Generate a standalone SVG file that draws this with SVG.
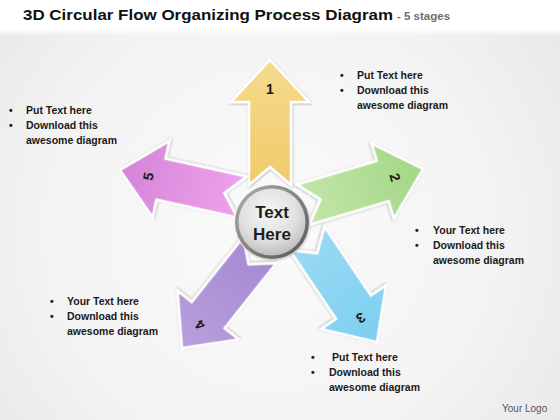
<svg xmlns="http://www.w3.org/2000/svg" width="560" height="420" viewBox="0 0 560 420">
  <style>
    .title{font-family:"Liberation Sans",Arial,sans-serif;font-weight:bold;font-size:15.5px;fill:#111;}
    .sub{font-family:"Liberation Sans",Arial,sans-serif;font-weight:bold;font-size:11.5px;fill:#6e6e6e;}
    .bul{font-family:"Liberation Sans",Arial,sans-serif;font-weight:bold;font-size:10.5px;fill:#1a1a1a;}
    .num{font-family:"Liberation Sans",Arial,sans-serif;font-weight:bold;font-size:14px;fill:#1a1a1a;text-anchor:middle;}
    .ctr{font-family:"Liberation Sans",Arial,sans-serif;font-weight:bold;font-size:17px;fill:#1e1e1e;text-anchor:middle;}
    .logo{font-family:"Liberation Sans",Arial,sans-serif;font-size:10px;fill:#555;}
    .arrow{stroke:#ffffff;stroke-width:2.5;stroke-linejoin:miter;filter:url(#sh);}
  </style>
  <defs>
    <radialGradient id="bg" cx="270" cy="230" r="380" gradientUnits="userSpaceOnUse">
      <stop offset="0" stop-color="#fbfbfb"/>
      <stop offset="0.6" stop-color="#f3f3f3"/>
      <stop offset="1" stop-color="#e6e6e6"/>
    </radialGradient>
    <linearGradient id="top" x1="0" y1="0" x2="0" y2="1">
      <stop offset="0" stop-color="#ffffff"/>
      <stop offset="0.8" stop-color="#ffffff"/>
      <stop offset="1" stop-color="#ffffff" stop-opacity="0"/>
    </linearGradient>
    <filter id="sh" x="-20%" y="-20%" width="140%" height="140%">
      <feDropShadow dx="0.5" dy="1" stdDeviation="1.2" flood-color="#000" flood-opacity="0.3"/>
    </filter>
    <path id="arr" d="M0,0 L39,42 L21,42 L21,125 L0,107 L-21,125 L-21,42 L-39,42 Z"/>
    <linearGradient id="g1" gradientUnits="userSpaceOnUse" x1="0" y1="0" x2="0" y2="125">
      <stop offset="0" stop-color="#f5da8e"/>
      <stop offset="1" stop-color="#f0cb6a"/>
    </linearGradient>
    <linearGradient id="g2" gradientUnits="userSpaceOnUse" x1="0" y1="0" x2="0" y2="125">
      <stop offset="0" stop-color="#a4d686"/>
      <stop offset="1" stop-color="#c2e6aa"/>
    </linearGradient>
    <linearGradient id="g3" gradientUnits="userSpaceOnUse" x1="0" y1="0" x2="0" y2="125">
      <stop offset="0" stop-color="#7ccff1"/>
      <stop offset="1" stop-color="#9ad9f3"/>
    </linearGradient>
    <linearGradient id="g4" gradientUnits="userSpaceOnUse" x1="0" y1="0" x2="0" y2="125">
      <stop offset="0" stop-color="#b89fdc"/>
      <stop offset="1" stop-color="#a68ad2"/>
    </linearGradient>
    <linearGradient id="g5" gradientUnits="userSpaceOnUse" x1="0" y1="0" x2="0" y2="125">
      <stop offset="0" stop-color="#d584d8"/>
      <stop offset="1" stop-color="#eda2ec"/>
    </linearGradient>
    <linearGradient id="ring" x1="0" y1="0" x2="1" y2="1">
      <stop offset="0" stop-color="#b0b0b0"/>
      <stop offset="0.5" stop-color="#848484"/>
      <stop offset="1" stop-color="#555555"/>
    </linearGradient>
    <radialGradient id="ball" cx="0.45" cy="0.35" r="0.7">
      <stop offset="0" stop-color="#f6f6f6"/>
      <stop offset="0.6" stop-color="#e0e0e0"/>
      <stop offset="1" stop-color="#b8b8b8"/>
    </radialGradient>
  </defs>

  <rect width="560" height="420" fill="url(#bg)"/>
  <rect width="560" height="36" fill="url(#top)"/>

  <text class="title" x="23" y="19.5" textLength="370" lengthAdjust="spacingAndGlyphs">3D Circular Flow Organizing Process Diagram</text>
  <text class="sub" x="397" y="19.5">- 5 stages</text>

  <g id="arrow1" transform="translate(270,60)">
    <use href="#arr" class="arrow" fill="url(#g1)"/>
    <text class="num" x="0" y="34">1</text>
  </g>
  <g id="arrow2" transform="translate(423,169) rotate(73.4)">
    <use href="#arr" class="arrow" fill="url(#g2)"/>
    <text class="num" x="0" y="34">2</text>
  </g>
  <g id="arrow3" transform="translate(377,342) rotate(146)">
    <use href="#arr" class="arrow" fill="url(#g3)"/>
    <text class="num" x="0" y="34">3</text>
  </g>
  <g id="arrow4" transform="translate(182,348) rotate(218.5)">
    <use href="#arr" class="arrow" fill="url(#g4)"/>
    <text class="num" x="0" y="34">4</text>
  </g>
  <g id="arrow5" transform="translate(120,170) rotate(282.5)">
    <use href="#arr" class="arrow" fill="url(#g5)"/>
    <text class="num" x="0" y="34">5</text>
  </g>

  <g id="center">
    <circle cx="272" cy="222" r="38.5" fill="#ffffff" opacity="0.9"/>
    <circle cx="272" cy="222" r="37" fill="url(#ring)" filter="url(#sh)"/>
    <circle cx="272" cy="222" r="33.5" fill="url(#ball)"/>
    <text class="ctr" x="272" y="218">Text</text>
    <text class="ctr" x="272" y="240">Here</text>
  </g>

  <g id="text-topleft" class="bul">
    <text x="9" y="114">•</text><text x="26" y="114">Put Text here</text>
    <text x="9" y="129">•</text><text x="26" y="129">Download  this</text>
    <text x="26" y="144">awesome diagram</text>
  </g>
  <g id="text-topright" class="bul">
    <text x="340" y="79">•</text><text x="357" y="79">Put Text here</text>
    <text x="340" y="94">•</text><text x="357" y="94">Download  this</text>
    <text x="357" y="109">awesome diagram</text>
  </g>
  <g id="text-right" class="bul">
    <text x="415" y="234">•</text><text x="433" y="234">Your Text here</text>
    <text x="415" y="249">•</text><text x="433" y="249">Download  this</text>
    <text x="433" y="264">awesome diagram</text>
  </g>
  <g id="text-bottomleft" class="bul">
    <text x="50" y="305">•</text><text x="67" y="305">Your Text here</text>
    <text x="50" y="320">•</text><text x="67" y="320">Download  this</text>
    <text x="67" y="335">awesome diagram</text>
  </g>
  <g id="text-bottom" class="bul">
    <text x="311" y="361">•</text><text x="332" y="361">Put Text here</text>
    <text x="311" y="376">•</text><text x="329" y="376">Download  this</text>
    <text x="329" y="391">awesome diagram</text>
  </g>
  <text class="logo" x="502" y="412">Your Logo</text>
</svg>
